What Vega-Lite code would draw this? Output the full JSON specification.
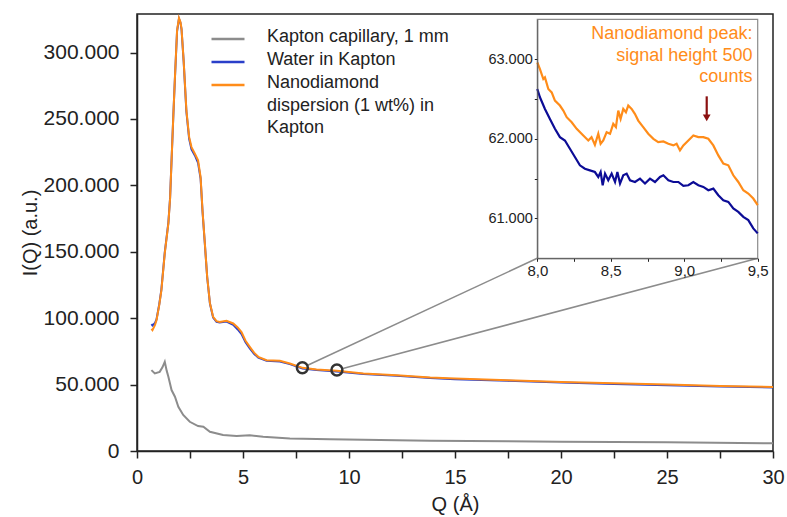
{
  "$schema": "https://vega.github.io/schema/vega-lite/v6.json",
  "width": 636,
  "height": 437,
  "autosize": {"type": "none"},
  "padding": {"left": 137, "top": 14, "right": 14, "bottom": 66},
  "config": {
    "font": "Liberation Sans",
    "locale": {"number": {"decimal": ",", "thousands": ".", "grouping": [3], "currency": ["", " €"]}},
    "view": {"stroke": "#222222", "strokeWidth": 1.5},
    "axis": {"grid": false, "domainColor": "#222222", "tickColor": "#222222", "labelColor": "#222222", "titleColor": "#222222", "labelFont": "Liberation Sans", "titleFont": "Liberation Sans", "titleFontWeight": "normal"}
  },
  "datasets": {
    "main": [
      {"series": "Kapton capillary, 1 mm", "Q": 0.68, "I": 60900},
      {"series": "Kapton capillary, 1 mm", "Q": 0.84, "I": 58400},
      {"series": "Kapton capillary, 1 mm", "Q": 1.07, "I": 59600},
      {"series": "Kapton capillary, 1 mm", "Q": 1.2, "I": 63000},
      {"series": "Kapton capillary, 1 mm", "Q": 1.31, "I": 67100},
      {"series": "Kapton capillary, 1 mm", "Q": 1.4, "I": 60500},
      {"series": "Kapton capillary, 1 mm", "Q": 1.48, "I": 55900},
      {"series": "Kapton capillary, 1 mm", "Q": 1.63, "I": 45900},
      {"series": "Kapton capillary, 1 mm", "Q": 1.79, "I": 40900},
      {"series": "Kapton capillary, 1 mm", "Q": 1.95, "I": 33300},
      {"series": "Kapton capillary, 1 mm", "Q": 2.18, "I": 27100},
      {"series": "Kapton capillary, 1 mm", "Q": 2.49, "I": 22000},
      {"series": "Kapton capillary, 1 mm", "Q": 2.88, "I": 18800},
      {"series": "Kapton capillary, 1 mm", "Q": 3.13, "I": 18300},
      {"series": "Kapton capillary, 1 mm", "Q": 3.44, "I": 14500},
      {"series": "Kapton capillary, 1 mm", "Q": 4.06, "I": 12000},
      {"series": "Kapton capillary, 1 mm", "Q": 4.7, "I": 11300},
      {"series": "Kapton capillary, 1 mm", "Q": 5.32, "I": 11800},
      {"series": "Kapton capillary, 1 mm", "Q": 5.95, "I": 10800},
      {"series": "Kapton capillary, 1 mm", "Q": 7.21, "I": 9500},
      {"series": "Kapton capillary, 1 mm", "Q": 9.1, "I": 8800},
      {"series": "Kapton capillary, 1 mm", "Q": 11.46, "I": 8300},
      {"series": "Kapton capillary, 1 mm", "Q": 13.83, "I": 7700},
      {"series": "Kapton capillary, 1 mm", "Q": 17.5, "I": 7300},
      {"series": "Kapton capillary, 1 mm", "Q": 20, "I": 7000},
      {"series": "Kapton capillary, 1 mm", "Q": 25, "I": 6500},
      {"series": "Kapton capillary, 1 mm", "Q": 30, "I": 5800},
      {"series": "Water in Kapton", "Q": 0.68, "I": 95500},
      {"series": "Water in Kapton", "Q": 0.73, "I": 94500},
      {"series": "Water in Kapton", "Q": 0.85, "I": 96500},
      {"series": "Water in Kapton", "Q": 0.92, "I": 99000},
      {"series": "Water in Kapton", "Q": 1.05, "I": 110500},
      {"series": "Water in Kapton", "Q": 1.15, "I": 121500},
      {"series": "Water in Kapton", "Q": 1.31, "I": 149500},
      {"series": "Water in Kapton", "Q": 1.48, "I": 172000},
      {"series": "Water in Kapton", "Q": 1.56, "I": 190500},
      {"series": "Water in Kapton", "Q": 1.63, "I": 219000},
      {"series": "Water in Kapton", "Q": 1.72, "I": 255000},
      {"series": "Water in Kapton", "Q": 1.79, "I": 281000},
      {"series": "Water in Kapton", "Q": 1.89, "I": 316000},
      {"series": "Water in Kapton", "Q": 1.98, "I": 325500},
      {"series": "Water in Kapton", "Q": 2.05, "I": 322500},
      {"series": "Water in Kapton", "Q": 2.1, "I": 317500},
      {"series": "Water in Kapton", "Q": 2.2, "I": 293500},
      {"series": "Water in Kapton", "Q": 2.33, "I": 255500},
      {"series": "Water in Kapton", "Q": 2.46, "I": 235000},
      {"series": "Water in Kapton", "Q": 2.57, "I": 227000},
      {"series": "Water in Kapton", "Q": 2.73, "I": 222500},
      {"series": "Water in Kapton", "Q": 2.88, "I": 217000},
      {"series": "Water in Kapton", "Q": 3.0, "I": 205000},
      {"series": "Water in Kapton", "Q": 3.09, "I": 180500},
      {"series": "Water in Kapton", "Q": 3.2, "I": 156000},
      {"series": "Water in Kapton", "Q": 3.31, "I": 131000},
      {"series": "Water in Kapton", "Q": 3.44, "I": 111000},
      {"series": "Water in Kapton", "Q": 3.59, "I": 100500},
      {"series": "Water in Kapton", "Q": 3.75, "I": 97300},
      {"series": "Water in Kapton", "Q": 3.9, "I": 96700},
      {"series": "Water in Kapton", "Q": 4.22, "I": 97500},
      {"series": "Water in Kapton", "Q": 4.54, "I": 95000},
      {"series": "Water in Kapton", "Q": 4.75, "I": 91500},
      {"series": "Water in Kapton", "Q": 4.93, "I": 88000},
      {"series": "Water in Kapton", "Q": 5.12, "I": 81800},
      {"series": "Water in Kapton", "Q": 5.32, "I": 77200},
      {"series": "Water in Kapton", "Q": 5.52, "I": 73200},
      {"series": "Water in Kapton", "Q": 5.72, "I": 70200},
      {"series": "Water in Kapton", "Q": 6.11, "I": 67900},
      {"series": "Water in Kapton", "Q": 6.74, "I": 67400},
      {"series": "Water in Kapton", "Q": 7.21, "I": 65400},
      {"series": "Water in Kapton", "Q": 7.81, "I": 62100},
      {"series": "Water in Kapton", "Q": 8.47, "I": 60900},
      {"series": "Water in Kapton", "Q": 9.42, "I": 59900},
      {"series": "Water in Kapton", "Q": 10.68, "I": 57900},
      {"series": "Water in Kapton", "Q": 12.25, "I": 56600},
      {"series": "Water in Kapton", "Q": 13.83, "I": 54900},
      {"series": "Water in Kapton", "Q": 15, "I": 54100},
      {"series": "Water in Kapton", "Q": 17.5, "I": 52800},
      {"series": "Water in Kapton", "Q": 20, "I": 51500},
      {"series": "Water in Kapton", "Q": 22.5, "I": 50500},
      {"series": "Water in Kapton", "Q": 25, "I": 49500},
      {"series": "Water in Kapton", "Q": 27.5, "I": 48500},
      {"series": "Water in Kapton", "Q": 30, "I": 47800},
      {"series": "Nanodiamond dispersion (1 wt%) in Kapton", "Q": 0.68, "I": 92000},
      {"series": "Nanodiamond dispersion (1 wt%) in Kapton", "Q": 0.73, "I": 91000},
      {"series": "Nanodiamond dispersion (1 wt%) in Kapton", "Q": 0.85, "I": 95000},
      {"series": "Nanodiamond dispersion (1 wt%) in Kapton", "Q": 0.92, "I": 98500},
      {"series": "Nanodiamond dispersion (1 wt%) in Kapton", "Q": 1.05, "I": 110000},
      {"series": "Nanodiamond dispersion (1 wt%) in Kapton", "Q": 1.15, "I": 121000},
      {"series": "Nanodiamond dispersion (1 wt%) in Kapton", "Q": 1.31, "I": 148900},
      {"series": "Nanodiamond dispersion (1 wt%) in Kapton", "Q": 1.48, "I": 171400},
      {"series": "Nanodiamond dispersion (1 wt%) in Kapton", "Q": 1.56, "I": 190000},
      {"series": "Nanodiamond dispersion (1 wt%) in Kapton", "Q": 1.63, "I": 218800},
      {"series": "Nanodiamond dispersion (1 wt%) in Kapton", "Q": 1.72, "I": 255000},
      {"series": "Nanodiamond dispersion (1 wt%) in Kapton", "Q": 1.79, "I": 281500},
      {"series": "Nanodiamond dispersion (1 wt%) in Kapton", "Q": 1.89, "I": 316600},
      {"series": "Nanodiamond dispersion (1 wt%) in Kapton", "Q": 1.98, "I": 326000},
      {"series": "Nanodiamond dispersion (1 wt%) in Kapton", "Q": 2.05, "I": 323000},
      {"series": "Nanodiamond dispersion (1 wt%) in Kapton", "Q": 2.1, "I": 318000},
      {"series": "Nanodiamond dispersion (1 wt%) in Kapton", "Q": 2.2, "I": 294000},
      {"series": "Nanodiamond dispersion (1 wt%) in Kapton", "Q": 2.33, "I": 256400},
      {"series": "Nanodiamond dispersion (1 wt%) in Kapton", "Q": 2.46, "I": 236300},
      {"series": "Nanodiamond dispersion (1 wt%) in Kapton", "Q": 2.57, "I": 228800},
      {"series": "Nanodiamond dispersion (1 wt%) in Kapton", "Q": 2.73, "I": 223800},
      {"series": "Nanodiamond dispersion (1 wt%) in Kapton", "Q": 2.88, "I": 218800},
      {"series": "Nanodiamond dispersion (1 wt%) in Kapton", "Q": 3.0, "I": 206200},
      {"series": "Nanodiamond dispersion (1 wt%) in Kapton", "Q": 3.09, "I": 181200},
      {"series": "Nanodiamond dispersion (1 wt%) in Kapton", "Q": 3.2, "I": 156400},
      {"series": "Nanodiamond dispersion (1 wt%) in Kapton", "Q": 3.31, "I": 131100},
      {"series": "Nanodiamond dispersion (1 wt%) in Kapton", "Q": 3.44, "I": 111300},
      {"series": "Nanodiamond dispersion (1 wt%) in Kapton", "Q": 3.59, "I": 101000},
      {"series": "Nanodiamond dispersion (1 wt%) in Kapton", "Q": 3.75, "I": 97800},
      {"series": "Nanodiamond dispersion (1 wt%) in Kapton", "Q": 3.9, "I": 97200},
      {"series": "Nanodiamond dispersion (1 wt%) in Kapton", "Q": 4.22, "I": 98000},
      {"series": "Nanodiamond dispersion (1 wt%) in Kapton", "Q": 4.54, "I": 96000},
      {"series": "Nanodiamond dispersion (1 wt%) in Kapton", "Q": 4.75, "I": 93000},
      {"series": "Nanodiamond dispersion (1 wt%) in Kapton", "Q": 4.93, "I": 89500},
      {"series": "Nanodiamond dispersion (1 wt%) in Kapton", "Q": 5.12, "I": 83000},
      {"series": "Nanodiamond dispersion (1 wt%) in Kapton", "Q": 5.32, "I": 78400},
      {"series": "Nanodiamond dispersion (1 wt%) in Kapton", "Q": 5.52, "I": 74000},
      {"series": "Nanodiamond dispersion (1 wt%) in Kapton", "Q": 5.72, "I": 70900},
      {"series": "Nanodiamond dispersion (1 wt%) in Kapton", "Q": 6.11, "I": 68400},
      {"series": "Nanodiamond dispersion (1 wt%) in Kapton", "Q": 6.74, "I": 67900},
      {"series": "Nanodiamond dispersion (1 wt%) in Kapton", "Q": 7.21, "I": 65900},
      {"series": "Nanodiamond dispersion (1 wt%) in Kapton", "Q": 7.81, "I": 62600},
      {"series": "Nanodiamond dispersion (1 wt%) in Kapton", "Q": 8.47, "I": 61400},
      {"series": "Nanodiamond dispersion (1 wt%) in Kapton", "Q": 9.42, "I": 60400},
      {"series": "Nanodiamond dispersion (1 wt%) in Kapton", "Q": 10.68, "I": 58400},
      {"series": "Nanodiamond dispersion (1 wt%) in Kapton", "Q": 12.25, "I": 57100},
      {"series": "Nanodiamond dispersion (1 wt%) in Kapton", "Q": 13.83, "I": 55400},
      {"series": "Nanodiamond dispersion (1 wt%) in Kapton", "Q": 15, "I": 54600},
      {"series": "Nanodiamond dispersion (1 wt%) in Kapton", "Q": 17.5, "I": 53300},
      {"series": "Nanodiamond dispersion (1 wt%) in Kapton", "Q": 20, "I": 52000},
      {"series": "Nanodiamond dispersion (1 wt%) in Kapton", "Q": 22.5, "I": 51000},
      {"series": "Nanodiamond dispersion (1 wt%) in Kapton", "Q": 25, "I": 50000},
      {"series": "Nanodiamond dispersion (1 wt%) in Kapton", "Q": 27.5, "I": 49000},
      {"series": "Nanodiamond dispersion (1 wt%) in Kapton", "Q": 30, "I": 48200}
    ],
    "inset": [
      {"series": "Water in Kapton", "Q": 8.0, "I": 62625},
      {"series": "Water in Kapton", "Q": 8.018, "I": 62521},
      {"series": "Water in Kapton", "Q": 8.052, "I": 62375},
      {"series": "Water in Kapton", "Q": 8.086, "I": 62250},
      {"series": "Water in Kapton", "Q": 8.12, "I": 62125},
      {"series": "Water in Kapton", "Q": 8.154, "I": 62021},
      {"series": "Water in Kapton", "Q": 8.188, "I": 61979},
      {"series": "Water in Kapton", "Q": 8.222, "I": 61875},
      {"series": "Water in Kapton", "Q": 8.256, "I": 61771},
      {"series": "Water in Kapton", "Q": 8.29, "I": 61667},
      {"series": "Water in Kapton", "Q": 8.324, "I": 61625},
      {"series": "Water in Kapton", "Q": 8.358, "I": 61604},
      {"series": "Water in Kapton", "Q": 8.392, "I": 61583},
      {"series": "Water in Kapton", "Q": 8.415, "I": 61521},
      {"series": "Water in Kapton", "Q": 8.431, "I": 61583},
      {"series": "Water in Kapton", "Q": 8.445, "I": 61417},
      {"series": "Water in Kapton", "Q": 8.461, "I": 61563},
      {"series": "Water in Kapton", "Q": 8.483, "I": 61479},
      {"series": "Water in Kapton", "Q": 8.506, "I": 61563},
      {"series": "Water in Kapton", "Q": 8.529, "I": 61458},
      {"series": "Water in Kapton", "Q": 8.545, "I": 61583},
      {"series": "Water in Kapton", "Q": 8.563, "I": 61438},
      {"series": "Water in Kapton", "Q": 8.585, "I": 61542},
      {"series": "Water in Kapton", "Q": 8.608, "I": 61563},
      {"series": "Water in Kapton", "Q": 8.631, "I": 61479},
      {"series": "Water in Kapton", "Q": 8.665, "I": 61458},
      {"series": "Water in Kapton", "Q": 8.699, "I": 61500},
      {"series": "Water in Kapton", "Q": 8.733, "I": 61438},
      {"series": "Water in Kapton", "Q": 8.767, "I": 61500},
      {"series": "Water in Kapton", "Q": 8.801, "I": 61458},
      {"series": "Water in Kapton", "Q": 8.835, "I": 61521},
      {"series": "Water in Kapton", "Q": 8.858, "I": 61542},
      {"series": "Water in Kapton", "Q": 8.892, "I": 61479},
      {"series": "Water in Kapton", "Q": 8.926, "I": 61458},
      {"series": "Water in Kapton", "Q": 8.96, "I": 61458},
      {"series": "Water in Kapton", "Q": 8.994, "I": 61408},
      {"series": "Water in Kapton", "Q": 9.028, "I": 61417},
      {"series": "Water in Kapton", "Q": 9.062, "I": 61458},
      {"series": "Water in Kapton", "Q": 9.096, "I": 61417},
      {"series": "Water in Kapton", "Q": 9.13, "I": 61396},
      {"series": "Water in Kapton", "Q": 9.164, "I": 61354},
      {"series": "Water in Kapton", "Q": 9.198, "I": 61375},
      {"series": "Water in Kapton", "Q": 9.232, "I": 61292},
      {"series": "Water in Kapton", "Q": 9.266, "I": 61229},
      {"series": "Water in Kapton", "Q": 9.3, "I": 61208},
      {"series": "Water in Kapton", "Q": 9.334, "I": 61125},
      {"series": "Water in Kapton", "Q": 9.368, "I": 61083},
      {"series": "Water in Kapton", "Q": 9.402, "I": 61021},
      {"series": "Water in Kapton", "Q": 9.436, "I": 60979},
      {"series": "Water in Kapton", "Q": 9.47, "I": 60875},
      {"series": "Water in Kapton", "Q": 9.5, "I": 60813},
      {"series": "Nanodiamond dispersion (1 wt%) in Kapton", "Q": 8.0, "I": 62958},
      {"series": "Nanodiamond dispersion (1 wt%) in Kapton", "Q": 8.018, "I": 62875},
      {"series": "Nanodiamond dispersion (1 wt%) in Kapton", "Q": 8.041, "I": 62750},
      {"series": "Nanodiamond dispersion (1 wt%) in Kapton", "Q": 8.052, "I": 62771},
      {"series": "Nanodiamond dispersion (1 wt%) in Kapton", "Q": 8.075, "I": 62625},
      {"series": "Nanodiamond dispersion (1 wt%) in Kapton", "Q": 8.098, "I": 62583},
      {"series": "Nanodiamond dispersion (1 wt%) in Kapton", "Q": 8.12, "I": 62479},
      {"series": "Nanodiamond dispersion (1 wt%) in Kapton", "Q": 8.154, "I": 62417},
      {"series": "Nanodiamond dispersion (1 wt%) in Kapton", "Q": 8.177, "I": 62354},
      {"series": "Nanodiamond dispersion (1 wt%) in Kapton", "Q": 8.2, "I": 62271},
      {"series": "Nanodiamond dispersion (1 wt%) in Kapton", "Q": 8.234, "I": 62208},
      {"series": "Nanodiamond dispersion (1 wt%) in Kapton", "Q": 8.268, "I": 62125},
      {"series": "Nanodiamond dispersion (1 wt%) in Kapton", "Q": 8.313, "I": 62042},
      {"series": "Nanodiamond dispersion (1 wt%) in Kapton", "Q": 8.347, "I": 61979},
      {"series": "Nanodiamond dispersion (1 wt%) in Kapton", "Q": 8.369, "I": 62021},
      {"series": "Nanodiamond dispersion (1 wt%) in Kapton", "Q": 8.392, "I": 61925},
      {"series": "Nanodiamond dispersion (1 wt%) in Kapton", "Q": 8.415, "I": 62063},
      {"series": "Nanodiamond dispersion (1 wt%) in Kapton", "Q": 8.431, "I": 61938},
      {"series": "Nanodiamond dispersion (1 wt%) in Kapton", "Q": 8.449, "I": 61979},
      {"series": "Nanodiamond dispersion (1 wt%) in Kapton", "Q": 8.472, "I": 62083},
      {"series": "Nanodiamond dispersion (1 wt%) in Kapton", "Q": 8.495, "I": 62063},
      {"series": "Nanodiamond dispersion (1 wt%) in Kapton", "Q": 8.517, "I": 62188},
      {"series": "Nanodiamond dispersion (1 wt%) in Kapton", "Q": 8.535, "I": 62146},
      {"series": "Nanodiamond dispersion (1 wt%) in Kapton", "Q": 8.551, "I": 62354},
      {"series": "Nanodiamond dispersion (1 wt%) in Kapton", "Q": 8.567, "I": 62250},
      {"series": "Nanodiamond dispersion (1 wt%) in Kapton", "Q": 8.585, "I": 62375},
      {"series": "Nanodiamond dispersion (1 wt%) in Kapton", "Q": 8.603, "I": 62333},
      {"series": "Nanodiamond dispersion (1 wt%) in Kapton", "Q": 8.619, "I": 62417},
      {"series": "Nanodiamond dispersion (1 wt%) in Kapton", "Q": 8.642, "I": 62375},
      {"series": "Nanodiamond dispersion (1 wt%) in Kapton", "Q": 8.664, "I": 62313},
      {"series": "Nanodiamond dispersion (1 wt%) in Kapton", "Q": 8.687, "I": 62229},
      {"series": "Nanodiamond dispersion (1 wt%) in Kapton", "Q": 8.721, "I": 62146},
      {"series": "Nanodiamond dispersion (1 wt%) in Kapton", "Q": 8.755, "I": 62063},
      {"series": "Nanodiamond dispersion (1 wt%) in Kapton", "Q": 8.79, "I": 62000},
      {"series": "Nanodiamond dispersion (1 wt%) in Kapton", "Q": 8.823, "I": 61958},
      {"series": "Nanodiamond dispersion (1 wt%) in Kapton", "Q": 8.858, "I": 61967},
      {"series": "Nanodiamond dispersion (1 wt%) in Kapton", "Q": 8.892, "I": 61938},
      {"series": "Nanodiamond dispersion (1 wt%) in Kapton", "Q": 8.926, "I": 61917},
      {"series": "Nanodiamond dispersion (1 wt%) in Kapton", "Q": 8.948, "I": 61938},
      {"series": "Nanodiamond dispersion (1 wt%) in Kapton", "Q": 8.971, "I": 61854},
      {"series": "Nanodiamond dispersion (1 wt%) in Kapton", "Q": 8.994, "I": 61917},
      {"series": "Nanodiamond dispersion (1 wt%) in Kapton", "Q": 9.028, "I": 61979},
      {"series": "Nanodiamond dispersion (1 wt%) in Kapton", "Q": 9.062, "I": 62042},
      {"series": "Nanodiamond dispersion (1 wt%) in Kapton", "Q": 9.096, "I": 62021},
      {"series": "Nanodiamond dispersion (1 wt%) in Kapton", "Q": 9.13, "I": 62021},
      {"series": "Nanodiamond dispersion (1 wt%) in Kapton", "Q": 9.164, "I": 62000},
      {"series": "Nanodiamond dispersion (1 wt%) in Kapton", "Q": 9.198, "I": 61917},
      {"series": "Nanodiamond dispersion (1 wt%) in Kapton", "Q": 9.232, "I": 61792},
      {"series": "Nanodiamond dispersion (1 wt%) in Kapton", "Q": 9.266, "I": 61688},
      {"series": "Nanodiamond dispersion (1 wt%) in Kapton", "Q": 9.3, "I": 61667},
      {"series": "Nanodiamond dispersion (1 wt%) in Kapton", "Q": 9.334, "I": 61542},
      {"series": "Nanodiamond dispersion (1 wt%) in Kapton", "Q": 9.368, "I": 61458},
      {"series": "Nanodiamond dispersion (1 wt%) in Kapton", "Q": 9.402, "I": 61354},
      {"series": "Nanodiamond dispersion (1 wt%) in Kapton", "Q": 9.436, "I": 61313},
      {"series": "Nanodiamond dispersion (1 wt%) in Kapton", "Q": 9.47, "I": 61250},
      {"series": "Nanodiamond dispersion (1 wt%) in Kapton", "Q": 9.5, "I": 61167}
    ],
    "conn": [
      {"Q": 8.05, "I": 64590, "Q2": 18.88, "I2": 145080},
      {"Q": 9.71, "I": 62110, "Q2": 29.28, "I2": 145080}
    ],
    "circ": [
      {"Q": 7.8, "I": 62710},
      {"Q": 9.43, "I": 60980}
    ],
    "frame": [
      {"Q": 8, "Q2": 9.5, "I": 60500, "I2": 63500}
    ],
    "arrow": [
      {"Q": 9.153, "I": 62533, "I2": 62290, "Ih": 62262}
    ],
    "annot": [
      {"Q": 9.464, "I": 63312, "text": "Nanodiamond peak:"},
      {"Q": 9.464, "I": 63034, "text": "signal height 500"},
      {"Q": 9.464, "I": 62771, "text": "counts"}
    ]
  },
  "layer": [
    {
      "layer": [
        {
          "data": {"name": "main"},
          "mark": {"type": "line", "strokeWidth": 2},
          "encoding": {
            "x": {
              "field": "Q", "type": "quantitative",
              "scale": {"domain": [0, 30], "nice": false, "zero": false},
              "axis": {
                "title": "Q (Å)",
                "values": [0, 2.5, 5, 7.5, 10, 12.5, 15, 17.5, 20, 22.5, 25, 27.5, 30],
                "labelExpr": "datum.value % 5 === 0 ? datum.label : ''",
                "labelFlush": false, "labelOverlap": false,
                "tickSize": 7, "tickWidth": 1.5, "domainWidth": 1.5,
                "labelFontSize": 20, "labelPadding": 9,
                "titleFontSize": 20, "titlePadding": 7
              }
            },
            "y": {
              "field": "I", "type": "quantitative",
              "scale": {"domain": [0, 329000], "nice": false, "zero": false},
              "axis": {
                "title": "I(Q) (a.u.)",
                "values": [0, 25000, 50000, 75000, 100000, 125000, 150000, 175000, 200000, 225000, 250000, 275000, 300000, 325000],
                "format": ",.0f",
                "labelExpr": "datum.value % 50000 === 0 ? datum.label : ''",
                "labelOverlap": false,
                "tickSize": 7, "tickWidth": 1.5, "domainWidth": 1.5,
                "labelFontSize": 21, "labelPadding": 11,
                "titleFontSize": 20, "titlePadding": 3
              }
            },
            "color": {
              "field": "series", "type": "nominal",
              "scale": {
                "domain": ["Kapton capillary, 1 mm", "Water in Kapton", "Nanodiamond dispersion (1 wt%) in Kapton"],
                "range": ["#8c8c8c", "#2a3fc9", "#ff8c19"]
              },
              "legend": {
                "orient": "none", "legendX": 82, "legendY": 16,
                "title": null,
                "symbolType": "M-3.3,0H3.3", "symbolSize": 100, "symbolStrokeWidth": 2.5,
                "labelFontSize": 18, "labelFont": "Liberation Sans", "labelColor": "#222222",
                "labelLimit": 400, "labelOffset": 30, "rowPadding": 5,
                "labelBaseline": "top",
                "labelExpr": "datum.label === 'Nanodiamond dispersion (1 wt%) in Kapton' ? ['Nanodiamond', 'dispersion (1 wt%) in', 'Kapton'] : datum.label",
                "encode": {"labels": {"update": {"dy": {"value": -11}, "lineHeight": {"value": 22.5}}}}
              }
            }
          }
        },
        {
          "data": {"name": "conn"},
          "mark": {"type": "rule", "color": "#8c8c8c", "strokeWidth": 1.5},
          "encoding": {
            "x": {"field": "Q", "type": "quantitative"},
            "y": {"field": "I", "type": "quantitative"},
            "x2": {"field": "Q2"},
            "y2": {"field": "I2"}
          }
        },
        {
          "data": {"name": "circ"},
          "mark": {"type": "point", "shape": "circle", "filled": false, "color": "#333333", "strokeWidth": 2.5, "size": 120, "opacity": 1},
          "encoding": {
            "x": {"field": "Q", "type": "quantitative"},
            "y": {"field": "I", "type": "quantitative"}
          }
        }
      ]
    },
    {
      "layer": [
        {
          "data": {"name": "frame"},
          "mark": {"type": "rect", "fill": "white", "stroke": "#8c8c8c", "strokeWidth": 1.2},
          "encoding": {
            "x": {
              "field": "Q", "type": "quantitative",
              "scale": {"domain": [8, 9.5], "range": [400.3, 620.7], "nice": false, "zero": false},
              "axis": {
                "orient": "bottom", "offset": -192.7, "title": null, "zindex": 2,
                "values": [8, 8.25, 8.5, 8.75, 9, 9.25, 9.5],
                "format": ".1f",
                "labelExpr": "(datum.value * 2) % 1 === 0 ? datum.label : ''",
                "labelFlush": false, "labelOverlap": false,
                "tickSize": 3, "tickWidth": 1, "domainWidth": 1, "domainColor": "#555555",
                "labelFontSize": 15, "labelPadding": 2
              }
            },
            "x2": {"field": "Q2"},
            "y": {
              "field": "I", "type": "quantitative",
              "scale": {"domain": [60500, 63500], "range": [244.3, 5.3], "nice": false, "zero": false},
              "axis": {
                "orient": "left", "offset": -400.3, "title": null, "zindex": 2,
                "values": [61000, 61500, 62000, 62500, 63000],
                "format": ",.0f",
                "labelExpr": "datum.value % 1000 === 0 ? datum.label : ''",
                "labelOverlap": false,
                "tickSize": 3, "tickWidth": 1, "domainWidth": 1, "domainColor": "#555555",
                "labelFontSize": 14.5, "labelPadding": 2
              }
            },
            "y2": {"field": "I2"}
          }
        },
        {
          "data": {"name": "inset"},
          "mark": {"type": "line", "strokeWidth": 2.2},
          "encoding": {
            "x": {"field": "Q", "type": "quantitative"},
            "y": {"field": "I", "type": "quantitative"},
            "color": {
              "field": "series", "type": "nominal",
              "scale": {"domain": ["Water in Kapton", "Nanodiamond dispersion (1 wt%) in Kapton"], "range": ["#0c0c96", "#ff8c19"]},
              "legend": null
            }
          }
        },
        {
          "data": {"name": "arrow"},
          "mark": {"type": "rule", "color": "#8b1010", "strokeWidth": 2.2},
          "encoding": {
            "x": {"field": "Q", "type": "quantitative"},
            "y": {"field": "I", "type": "quantitative"},
            "y2": {"field": "I2"}
          }
        },
        {
          "data": {"name": "arrow"},
          "mark": {"type": "point", "shape": "triangle-down", "filled": true, "color": "#8b1010", "size": 60, "opacity": 1},
          "encoding": {
            "x": {"field": "Q", "type": "quantitative"},
            "y": {"field": "Ih", "type": "quantitative"}
          }
        },
        {
          "data": {"name": "annot"},
          "mark": {"type": "text", "align": "right", "baseline": "middle", "fontSize": 18, "font": "Liberation Sans", "color": "#ff8c19"},
          "encoding": {
            "x": {"field": "Q", "type": "quantitative"},
            "y": {"field": "I", "type": "quantitative"},
            "text": {"field": "text"}
          }
        }
      ]
    }
  ],
  "resolve": {
    "scale": {"x": "independent", "y": "independent", "color": "independent"},
    "axis": {"x": "independent", "y": "independent"}
  }
}
